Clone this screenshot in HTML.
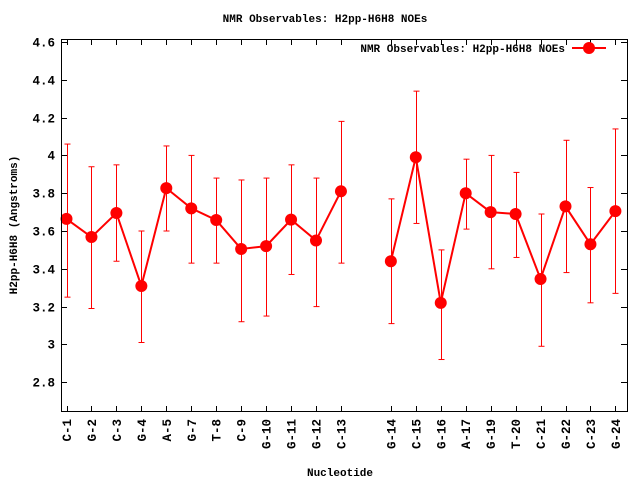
<!DOCTYPE html>
<html><head><meta charset="utf-8"><style>
body{margin:0;background:#fff}
svg text{font-family:"Liberation Mono","DejaVu Sans Mono",monospace;font-weight:bold;font-size:11px;fill:#000}
svg text.t{font-size:12.5px}
</style></head><body>
<svg id="s" width="640" height="480" xmlns="http://www.w3.org/2000/svg">
<rect width="640" height="480" fill="#fff"/>
<text x="325" y="22" text-anchor="middle">NMR Observables: H2pp-H6H8 NOEs</text>
<text x="340" y="476" text-anchor="middle">Nucleotide</text>
<text transform="translate(17,225) rotate(-90)" text-anchor="middle">H2pp-H6H8 (Angstroms)</text>
<g id="g"></g>
<rect x="61.5" y="39.5" width="566" height="372" fill="none" stroke="#000" stroke-width="1"/>
<text x="565" y="52" text-anchor="end">NMR Observables: H2pp-H6H8 NOEs</text>
<line x1="572" y1="48" x2="606" y2="48" stroke="#f00" stroke-width="2"/>
<circle cx="589" cy="48" r="6" fill="#f00"/>
</svg>
<script>
var g=document.getElementById('g'),h='';
function Y(v){return 42+(4.6-v)*189;}
var yt=[4.6,4.4,4.2,4,3.8,3.6,3.4,3.2,3,2.8];
yt.forEach(function(v){var y=Math.round(Y(v))+0.5;
h+='<line x1="61" y1="'+y+'" x2="67" y2="'+y+'" stroke="#000"/><line x1="621" y1="'+y+'" x2="627" y2="'+y+'" stroke="#000"/>';
h+='<text class="t" x="55" y="'+(y+4)+'" text-anchor="end">'+(v==4||v==3?v:v.toFixed(1))+'</text>';});
var d=[["C-1",0,3.664,3.25,4.06],["G-2",1,3.568,3.19,3.94],["C-3",2,3.695,3.44,3.95],["G-4",3,3.309,3.01,3.60],["A-5",4,3.827,3.60,4.05],["G-7",5,3.72,3.43,4.00],["T-8",6,3.658,3.43,3.88],["C-9",7,3.505,3.12,3.87],["G-10",8,3.52,3.15,3.88],["G-11",9,3.66,3.37,3.95],["G-12",10,3.55,3.20,3.88],["C-13",11,3.81,3.43,4.18],
["G-14",13,3.44,3.11,3.77],["C-15",14,3.99,3.64,4.34],["G-16",15,3.22,2.92,3.50],["A-17",16,3.80,3.61,3.98],["G-19",17,3.70,3.40,4.00],["T-20",18,3.69,3.46,3.91],["C-21",19,3.346,2.99,3.69],["G-22",20,3.73,3.38,4.08],["C-23",21,3.53,3.22,3.83],["G-24",22,3.705,3.27,4.14]];
function X(s){return 66.5+s*24.95;}
var p1=[],p2=[];
d.forEach(function(r){var x=X(r[1]),xr=Math.round(x)+0.5;
h+='<line x1="'+xr+'" y1="412" x2="'+xr+'" y2="406" stroke="#000"/><line x1="'+xr+'" y1="39" x2="'+xr+'" y2="45" stroke="#000"/>';
h+='<text class="t" transform="translate('+(x+4.5)+',419) rotate(-90)" text-anchor="end">'+r[0]+'</text>';
var a=Y(r[3]),b=Y(r[4]);
h+='<line x1="'+xr+'" y1="'+a+'" x2="'+xr+'" y2="'+b+'" stroke="#f00"/><line x1="'+(xr-3)+'" y1="'+a+'" x2="'+(xr+3)+'" y2="'+a+'" stroke="#f00"/><line x1="'+(xr-3)+'" y1="'+b+'" x2="'+(xr+3)+'" y2="'+b+'" stroke="#f00"/>';
(r[1]<12?p1:p2).push(x+','+Y(r[2]));});
h+='<polyline points="'+p1.join(' ')+'" fill="none" stroke="#f00" stroke-width="2"/><polyline points="'+p2.join(' ')+'" fill="none" stroke="#f00" stroke-width="2"/>';
d.forEach(function(r){h+='<circle cx="'+X(r[1])+'" cy="'+Y(r[2])+'" r="6" fill="#f00"/>';});
g.innerHTML=h;
</script>
</body></html>
